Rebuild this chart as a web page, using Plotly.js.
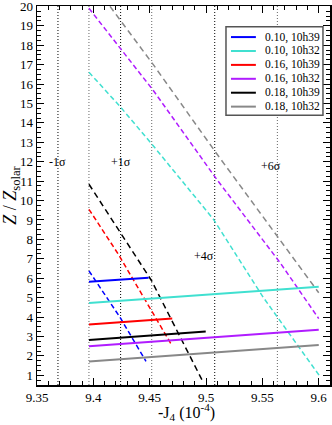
<!DOCTYPE html>
<html>
<head>
<meta charset="utf-8">
<script src="https://cdn.plot.ly/plotly-3.0.1.min.js"></script>
<style>
  html, body { margin: 0; padding: 0; background: #fff; }
  #chart { width: 332px; height: 425px; }
</style>
</head>
<body>
<div id="chart"></div>
<script>
// -J4 (10^-4) on x, Z / Zsolar on y
const labels = ['0.10, 10h39', '0.10, 10h32', '0.16, 10h39', '0.16, 10h32', '0.18, 10h39', '0.18, 10h32']
const colors = ['#0000ff', '#40e0d0', '#ff0000', '#b01cff', '#000000', '#888888']

// solid lines
const solidX = [
    [9.3961, 9.4490],
    [9.3961, 9.6000],
    [9.3961, 9.4700],
    [9.3961, 9.6000],
    [9.3961, 9.4997],
    [9.3961, 9.6000],
]
const solidY = [
    [5.82, 6.02],
    [4.72, 5.56],
    [3.61, 3.92],
    [2.49, 3.34],
    [2.82, 3.26],
    [1.71, 2.56],
]

// dashed lines
const dashX = [
    [9.3961, 9.4237, 9.4467],
    [9.3961, 9.4242, 9.4517, 9.5065, 9.5508, 9.6005],
    [9.3961, 9.4221, 9.4689],
    [9.3961, 9.4532, 9.5095, 9.5656, 9.6000],
    [9.3961, 9.4517, 9.4967],
    [9.4148, 9.4532, 9.5095, 9.5656, 9.6000],
]
const dashY = [
    [6.38, 3.98, 1.72],
    [16.61, 14.81, 12.92, 9.04, 5.01, 0.99],
    [9.55, 7.24, 2.62],
    [19.9, 15.67, 11.09, 6.81, 3.92],
    [10.84, 5.87, 0.73],
    [20.0, 17.0, 12.41, 7.96, 5.25],
]

// sigma lines
const sigmaX = [9.3686, 9.3961, 9.4242, 9.4518, 9.5077, 9.5633]
const sigmaColors = ['#000', '#666', '#000', '#666', '#000', '#666']
const sigmaText = ['-1σ', '+1σ', '+4σ', '+6σ']
const sigmaTextX = [9.3686, 9.4242, 9.4982, 9.5577]
const sigmaTextY = [12.0, 12.0, 7.15, 11.8]

const xTicks = [9.35, 9.4, 9.45, 9.5, 9.55, 9.6]
const xTickText = ['9.35', '9.4', '9.45', '9.5', '9.55', '9.6']
const yTicks = [1, 2, 3, 4, 5, 6, 7, 8, 9, 10, 11, 12, 13, 14, 15, 16, 17, 18, 19, 20]

const serif = 'Liberation Serif, Times New Roman, serif'

let data = []
for (let i = 0; i < labels.length; i++) {
    data.push({
        mode: 'lines',
        x: dashX[i],
        y: dashY[i],
        line: { color: colors[i], width: 1.5, dash: i === 4 || i === 5 ? '6px,4px' : '5px,3px' },
        showlegend: false,
        hoverinfo: 'skip',
    })
}
for (let i = 0; i < labels.length; i++) {
    data.push({
        mode: 'lines',
        x: solidX[i],
        y: solidY[i],
        line: { color: colors[i], width: 2 },
        name: labels[i],
        showlegend: false,
        hoverinfo: 'skip',
    })
}

let shapes = sigmaX.map((x, i) => ({
    type: 'line', xref: 'x', yref: 'paper', x0: x, x1: x, y0: 0, y1: 1,
    line: { color: sigmaColors[i], width: 1, dash: '1px,2px' },
    layer: 'below',
}))

let annotations = sigmaText.map((t, i) => ({
    x: sigmaTextX[i], y: sigmaTextY[i], xref: 'x', yref: 'y',
    text: t, showarrow: false, xanchor: 'center', yanchor: 'middle',
    font: { family: serif, size: 12, color: '#000' },
}))

// x title as an annotation so it can sit lower than plotly puts it
annotations.push({
    x: 0.51, y: -0.072, xref: 'paper', yref: 'paper', showarrow: false,
    text: '-J<sub>4</sub> (10<sup>-4</sup>)', xanchor: 'center', yanchor: 'middle',
    font: { family: serif, size: 16, color: '#000' },
})

// legend box drawn by hand so rows can sit close together
const legTop = 0.918, legStep = 0.0367
shapes.push({
    type: 'rect', xref: 'paper', yref: 'paper', x0: 0.645, x1: 0.976, y0: 0.712, y1: 0.945,
    line: { color: '#555', width: 1.5 }, fillcolor: '#fff',
})
labels.forEach((lab, i) => {
    let y = legTop - i * legStep
    shapes.push({
        type: 'line', xref: 'paper', yref: 'paper', x0: 0.662, x1: 0.747, y0: y, y1: y,
        line: { color: colors[i], width: 2 },
    })
    annotations.push({
        x: 0.772, y: y, xref: 'paper', yref: 'paper', text: lab, showarrow: false,
        xanchor: 'left', yanchor: 'middle',
        font: { family: serif, size: 11.5, color: '#000' },
    })
})

const axisCommon = {
    showline: true, linecolor: '#000', linewidth: 1.5, mirror: 'ticks',
    ticks: 'inside', ticklen: 7, tickwidth: 1, tickcolor: '#000',
    showgrid: false, zeroline: false, ticklabeloverflow: 'allow',
    tickfont: { family: serif, size: 13, color: '#000' },
}

const layout = {
    width: 332,
    height: 425,
    margin: { l: 37, r: 2, t: 6, b: 40 },
    paper_bgcolor: '#fff',
    plot_bgcolor: '#fff',
    showlegend: false,
    xaxis: Object.assign({}, axisCommon, {
        range: [9.35, 9.61],
        tickmode: 'array', tickvals: xTicks, ticktext: xTickText,
        minor: { tickmode: 'linear', tick0: 9.35, dtick: 0.01, ticks: 'inside', ticklen: 4, tickcolor: '#000' },
    }),
    yaxis: Object.assign({}, axisCommon, {
        range: [0.5, 20.02],
        tickmode: 'array', tickvals: yTicks, ticktext: yTicks.map(String),
        minor: { tickmode: 'linear', tick0: 0, dtick: 0.25, ticks: 'inside', ticklen: 4, tickcolor: '#000' },
        title: { text: '<i>Z</i> / <i>Z</i><sub>solar</sub>', font: { family: serif, size: 18, color: '#000' }, standoff: 3 },
    }),
    shapes: shapes,
    annotations: annotations,
}

Plotly.newPlot('chart', data, layout, { displayModeBar: false, staticPlot: true })
</script>
</body>
</html>
